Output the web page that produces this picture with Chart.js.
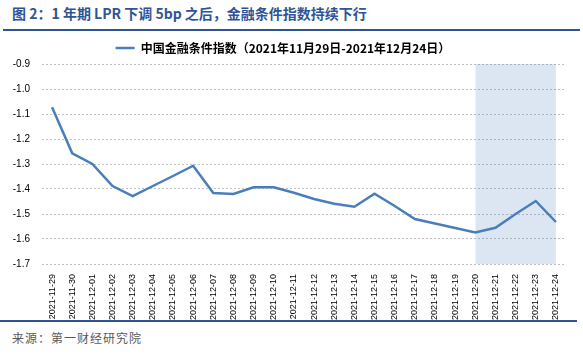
<!DOCTYPE html>
<html>
<head>
<meta charset="utf-8">
<script src="https://cdn.jsdelivr.net/npm/chart.js@4"></script>
<style>
	body { margin: 0; background: #fff; width: 583px; height: 354px; overflow: hidden; position: relative; }
	#title { position: absolute; left: 12px; top: 3px; font: bold 14px "Noto Sans CJK SC", sans-serif; line-height: 20px; color: #2f5496; white-space: nowrap; }
	#topRule { position: absolute; left: 3px; top: 29px; width: 577px; height: 2px; background: #2f5496; }
	#wrap { position: absolute; left: 0; top: 34px; width: 583px; height: 286px; }
	#bottomRule { position: absolute; left: 0; top: 320px; width: 577px; height: 2px; background: #2f5496; }
	#source { position: absolute; left: 12px; top: 329px; font: 12px "Noto Sans CJK SC", sans-serif; letter-spacing: 1px; color: #595959; white-space: nowrap; }
</style>
</head>
<body>
<div id="title">图 2：1 年期 LPR 下调 5bp 之后，金融条件指数持续下行</div>
<div id="topRule"></div>
<div id="wrap"><canvas id="fciChart" width="583" height="286"></canvas></div>
<div id="bottomRule"></div>
<div id="source">来源：第一财经研究院</div>
<script>
// 날짜 (x축)
var dates = [
	'2021-11-29', '2021-11-30', '2021-12-01', '2021-12-02', '2021-12-03', '2021-12-04',
	'2021-12-05', '2021-12-06', '2021-12-07', '2021-12-08', '2021-12-09', '2021-12-10',
	'2021-12-11', '2021-12-12', '2021-12-13', '2021-12-14', '2021-12-15', '2021-12-16',
	'2021-12-17', '2021-12-18', '2021-12-19', '2021-12-20', '2021-12-21', '2021-12-22',
	'2021-12-23', '2021-12-24'
];

// 中国金融条件指数
var fciValues = [
	-1.073, -1.257, -1.300, -1.388, -1.428, -1.388,
	-1.348, -1.307, -1.416, -1.420, -1.393, -1.393,
	-1.415, -1.440, -1.459, -1.471, -1.419, -1.468,
	-1.520, -1.538, -1.556, -1.574, -1.555, -1.500,
	-1.448, -1.532
];

// 음영 구간
var shadeFrom = '2021-12-20';
var shadeTo = '2021-12-24';

var yMin = -1.7;
var yMax = -0.9;

var legendText = '中国金融条件指数（2021年11月29日-2021年12月24日）';

var i0 = dates.indexOf(shadeFrom);
var i1 = dates.indexOf(shadeTo);
var shadeData = dates.map(function(d, i) {
	return (i >= i0 && i <= i1) ? yMax : null;
});

var ctx = document.getElementById('fciChart').getContext('2d');
var chart = new Chart(ctx, {
	type: 'line',
	data: {
		labels: dates,
		datasets: [{
			label: legendText,
			data: fciValues,
			borderColor: '#4a7ebb',
			backgroundColor: '#4a7ebb',
			borderWidth: 2.5,
			pointRadius: 0,
			tension: 0,
			fill: false
		}, {
			label: 'shade',
			data: shadeData,
			borderWidth: 0,
			borderColor: 'rgba(0,0,0,0)',
			backgroundColor: 'rgba(79,129,189,0.2)',
			pointRadius: 0,
			fill: 'start',
			spanGaps: false
		}]
	},
	options: {
		responsive: false,
		devicePixelRatio: 1,
		animation: false,
		layout: {
			padding: { top: 0, right: 17, bottom: 0, left: 0 }
		},
		scales: {
			x: {
				offset: true,
				grid: { display: false },
				border: { display: false },
				ticks: {
					minRotation: 90,
					maxRotation: 90,
					autoSkip: false,
					padding: 2,
					color: '#000',
					font: { family: 'Liberation Sans', size: 9 }
				},
				afterFit: function(scale) { scale.height = 56; }
			},
			y: {
				min: yMin,
				max: yMax,
				grid: {
					color: '#bfbfbf',
					drawTicks: false,
					lineWidth: 1
				},
				border: { display: false, dash: [2, 2] },
				ticks: {
					stepSize: 0.1,
					padding: 12,
					color: '#000',
					font: { family: 'Liberation Sans', size: 10 },
					callback: function(v) { return v.toFixed(1); }
				},
				afterFit: function(scale) { scale.width = 42; }
			}
		},
		plugins: {
			legend: {
				display: true,
				position: 'top',
				labels: {
					usePointStyle: true,
					pointStyle: 'line',
					pointStyleWidth: 19,
					padding: 8,
					color: '#000',
					font: { family: 'Noto Sans CJK SC', size: 12, weight: 'bold' },
					filter: function(item) { return item.datasetIndex === 0; }
				}
			},
			tooltip: { enabled: false },
			title: { display: false }
		}
	}
});
</script>
</body>
</html>
